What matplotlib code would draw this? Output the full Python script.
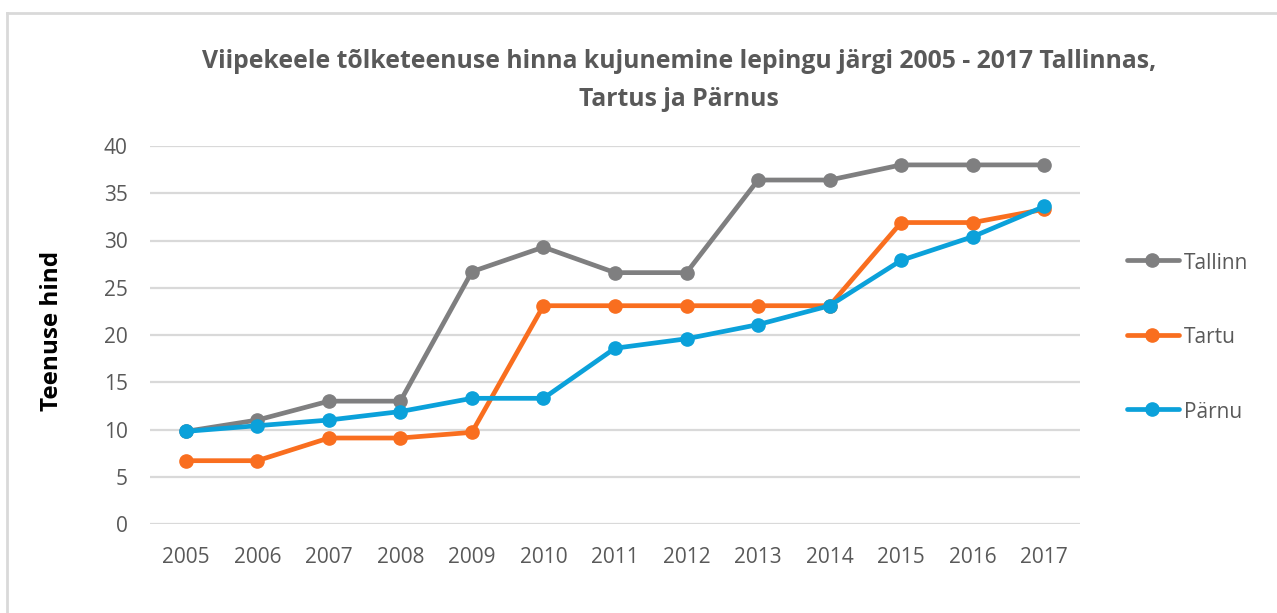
import numpy as np
import matplotlib
matplotlib.use('Agg')
import matplotlib.pyplot as plt
from matplotlib.lines import Line2D

# Andmed (loetud pildilt)
aastad = ['2005', '2006', '2007', '2008', '2009', '2010', '2011',
          '2012', '2013', '2014', '2015', '2016', '2017']
tallinn = [9.8, 11.0, 13.0, 13.0, 26.7, 29.3, 26.6, 26.6, 36.4, 36.4, 38.0, 38.0, 38.0]
tartu = [6.7, 6.7, 9.1, 9.1, 9.7, 23.1, 23.1, 23.1, 23.1, 23.1, 31.9, 31.9, 33.3]
parnu = [9.8, 10.4, 11.0, 11.9, 13.3, 13.3, 18.6, 19.6, 21.1, 23.1, 27.9, 30.4, 33.6]

seeriad = ['Tallinn', 'Tartu', 'Pärnu']
varvid = ['#7F7F80', '#F96E1F', '#0BA1DA']

plt.rcParams['font.family'] = ['Open Sans', 'DejaVu Sans']

W, H = 1277, 613
fig = plt.figure(figsize=(W / 100, H / 100), dpi=100)
ax = fig.add_axes([150 / W, 1 - 524 / H, (1080 - 150) / W, (524 - 146) / H])

x = np.arange(len(aastad))
for vaartused, nimi, varv in zip([tallinn, tartu, parnu], seeriad, varvid):
    ax.plot(x, vaartused, color=varv, linewidth=3.4, marker='o', markersize=9.5,
            solid_capstyle='round', label=nimi, zorder=3)

ax.set_xlim(-0.5, len(aastad) - 0.5)
ax.set_ylim(0, 40)
ax.set_yticks(range(0, 41, 5))
ax.set_xticks(x)
ax.set_xticklabels(aastad)
ax.tick_params(axis='both', length=0, labelsize=15, colors='#595959')
ax.tick_params(axis='x', pad=16.5)
ax.tick_params(axis='y', pad=16)
ax.grid(axis='y', color='#D9D9D9', linewidth=1.6)
ax.set_axisbelow(True)
for s in ax.spines.values():
    s.set_visible(False)

fig.text(52 / W, 1 - 331 / H, 'Teenuse hind', rotation=90, ha='center', va='center',
         fontsize=17.5, fontweight='bold', color='black')

fig.text(679 / W, 1 - 62 / H,
         'Viipekeele tõlketeenuse hinna kujunemine lepingu järgi 2005 - 2017 Tallinnas,',
         ha='center', va='center', fontsize=17.8, fontweight='bold', color='#595959')
fig.text(679 / W, 1 - 100 / H, 'Tartus ja Pärnus', ha='center', va='center',
         fontsize=17.8, fontweight='bold', color='#595959')

# Legend
for i, (nimi, varv) in enumerate(zip(seeriad, varvid)):
    yy = 1 - (260 + i * 74.5) / H
    fig.add_artist(Line2D([1127 / W, 1179 / W], [yy, yy], color=varv, linewidth=3.4,
                          solid_capstyle='round'))
    fig.add_artist(Line2D([1152 / W], [yy], color=varv, marker='o', markersize=9.5))
    fig.text(1184 / W, yy - 3 / H, nimi, ha='left', va='center', fontsize=15, color='#595959')

# Raam
fig.add_artist(Line2D([7 / W, 7 / W], [0, 1 - 13 / H], color='#D9D9D9', linewidth=2))
fig.add_artist(Line2D([7 / W, 1], [1 - 13 / H, 1 - 13 / H], color='#D9D9D9', linewidth=2))

fig.savefig('out.png', dpi=100)
